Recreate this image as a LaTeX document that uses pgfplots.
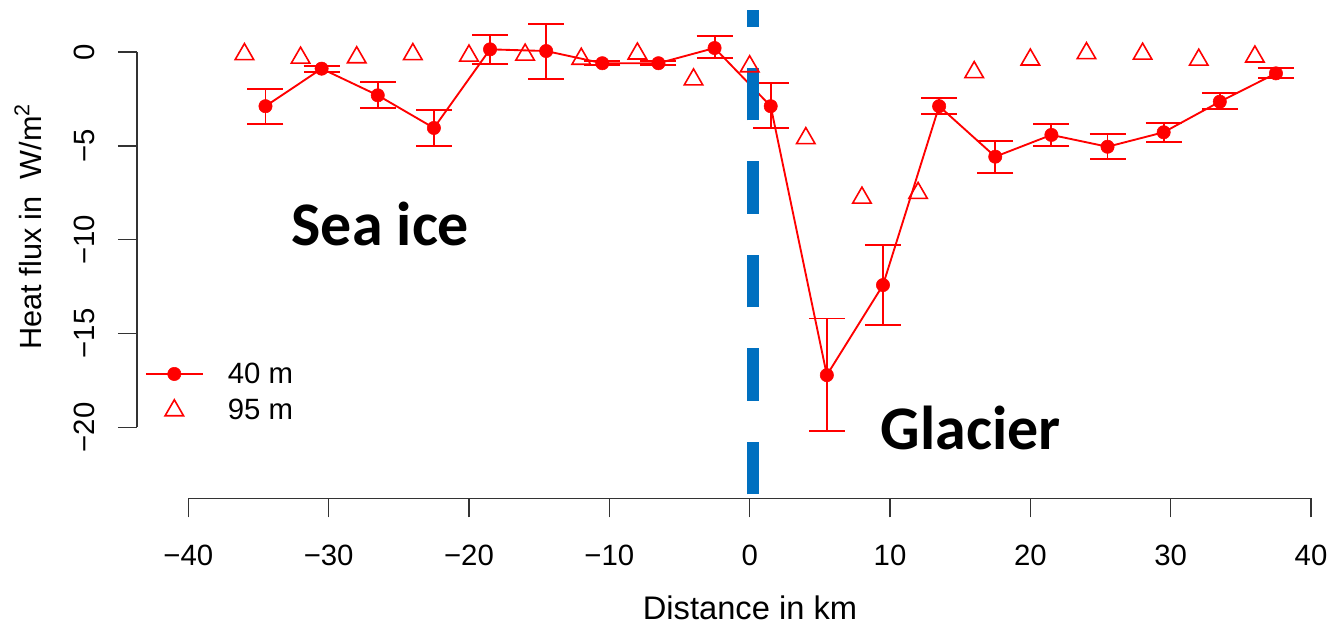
\documentclass[border=0pt]{standalone}
\usepackage{pgfplots}
\pgfplotsset{compat=1.18}
\usepackage{pgfplotstable}
\usepackage{fontspec}
\setmainfont{Liberation Sans}
\newfontfamily\calibri{Carlito}
\definecolor{vblue}{HTML}{0070C0}
\pgfplotstableread{
x y ep em
-34.5 -2.89 0.92 0.93
-30.5 -0.89 0.14 0.16
-26.5 -2.31 0.69 0.68
-22.5 -4.05 0.98 0.94
-18.5 0.14 0.78 0.76
-14.5 0.05 1.43 1.47
-10.5 -0.60 0.10 0.10
-6.5 -0.60 0.10 0.10
-2.5 0.21 0.62 0.52
1.5 -2.89 1.22 1.18
5.5 -17.22 3.02 2.98
9.5 -12.42 2.13 2.15
13.5 -2.89 0.42 0.43
17.5 -5.58 0.84 0.85
21.5 -4.42 0.58 0.59
25.5 -5.05 0.66 0.65
29.5 -4.28 0.50 0.50
33.5 -2.65 0.45 0.40
37.5 -1.14 0.27 0.26
}\fortym
\pgfplotstableread{
x y
-36 -0.12
-32 -0.31
-28 -0.29
-24 -0.12
-20 -0.20
-16 -0.15
-12 -0.37
-8 -0.09
-4 -1.47
0 -0.77
4 -4.60
8 -7.77
12 -7.52
16 -1.08
20 -0.41
24 -0.07
28 -0.10
32 -0.42
36 -0.25
}\ninetyfivem
\begin{document}
\begin{tikzpicture}
\useasboundingbox (0pt,0pt) rectangle (999pt,468.75pt);
\begin{axis}[
  at={(141.225pt,148.275pt)}, anchor=south west,
  scale only axis, width=842.05pt, height=281.5pt,
  xmin=-40, xmax=40, ymin=-20, ymax=0,
  axis lines*=left,
  axis x line shift=53.25pt,
  axis y line shift=38.5pt,
  clip=false,
  xtick={-40,-30,...,40}, xticklabels={−40,−30,−20,−10,0,10,20,30,40},
  ytick={-20,-15,...,0}, yticklabels={−20,−15,−10,−5,0},
  tick align=outside, major tick length=14.25pt,
  tick style={line width=1.1pt, black!80},
  axis line style={line width=1.1pt, black!80},
  ticklabel style={font=\fontsize{22}{26}\selectfont, inner sep=0pt},
  xticklabel style={anchor=north, yshift=-20.75pt},
  yticklabel style={rotate=90, anchor=south, yshift=17.25pt},
  legend style={draw=none, fill=none, font=\fontsize{22}{26}\selectfont,
    at={(axis description cs:-0.0425,0.0935)}, anchor=west,
    row sep=6.5pt,
    /tikz/every odd column/.append style={column sep=16pt}},
  legend cell align=left,
  legend image code/.code={\draw[mark repeat=2,mark phase=2,#1] plot coordinates {(0pt,0pt) (21.4pt,0pt) (42.8pt,0pt)};},
]
\addplot[red, line width=1.4pt, mark=*, mark size=5pt, mark options={fill=red, draw=red, line width=0.4pt},
  error bars/.cd, y dir=both, y explicit,
  error bar style={line width=1.4pt, red},
  error mark options={red, mark size=13.5pt, line width=1.4pt, rotate=90}]
  table[x=x, y=y, y error plus=ep, y error minus=em] {\fortym};
\addlegendentry{40 m}
\addplot[red, only marks, mark=triangle, mark size=8pt, mark options={line width=1.2pt}]
  table[x=x, y=y] {\ninetyfivem};
\addlegendentry{95 m}
\addplot[vblue, line width=9.45pt, dash pattern=on 39.4pt off 30.75pt, forget plot]
  coordinates {(0.25,-23.58) (0.25,2.24)};
\end{axis}
\node[anchor=base west, inner sep=0pt, font=\calibri\bfseries\fontsize{46.5}{50}\selectfont] at (218.5pt,284.25pt) {Sea ice};
\node[anchor=base west, inner sep=0pt, font=\calibri\bfseries\fontsize{46.5}{50}\selectfont] at (660.5pt,131.25pt) {Glacier};
\node[anchor=base, inner sep=0pt, font=\fontsize{24.5}{28}\selectfont] at (562.5pt,4.5pt) {Distance in km};
\node[anchor=base, rotate=90, inner sep=0pt, font=\fontsize{23}{26}\selectfont] at (31.125pt,298.875pt) {Heat flux in\ \ W/m\textsuperscript{2}};
\end{tikzpicture}
\end{document}
